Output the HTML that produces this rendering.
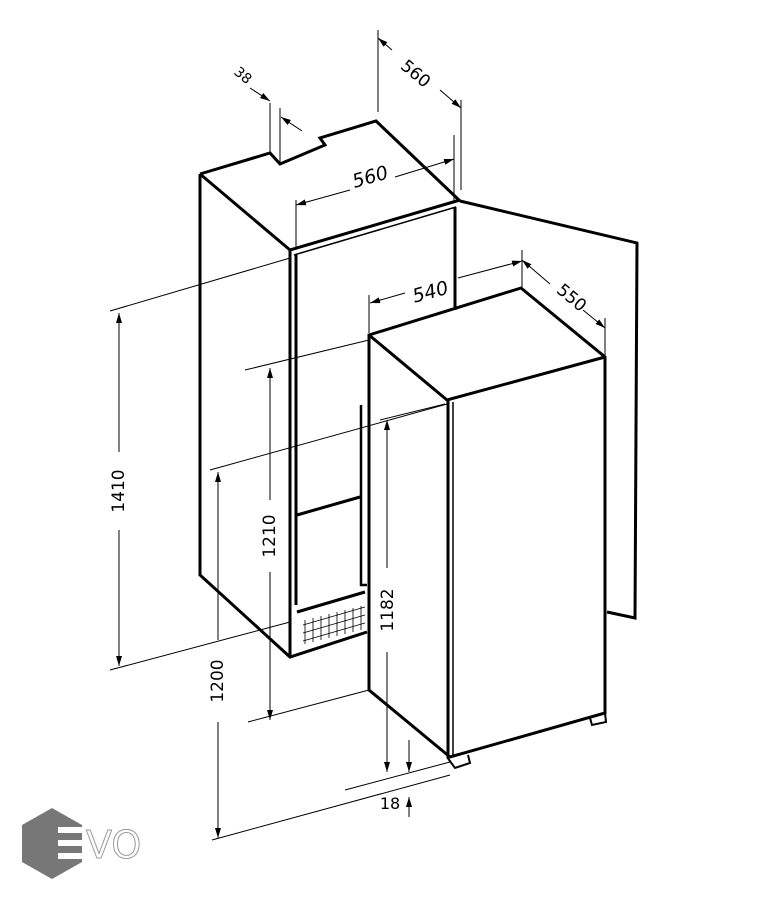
<!DOCTYPE html>
<html><head><meta charset="utf-8"><style>
html,body{margin:0;padding:0;background:#fff;}
svg{display:block;}
text{font-family:"DejaVu Sans","Liberation Sans",sans-serif;}
</style></head><body>
<svg width="775" height="900" viewBox="0 0 775 900" xmlns="http://www.w3.org/2000/svg">
<defs>
<marker id="a" viewBox="0 0 10 6" refX="10" refY="3" markerWidth="10" markerHeight="6" markerUnits="userSpaceOnUse" orient="auto-start-reverse"><path d="M0,0 L10,3 L0,6 z" fill="#000"/></marker>
</defs>
<g fill="none" stroke="#000" stroke-width="3" stroke-linejoin="miter">
<path d="M200,174 L270,153 L280,164 L325,145 L320,138 L376,121 L460,201"/>
<path d="M200,174 L290,250 L460,200"/>
<path d="M200,174 L200,575 L290,657 L367,632"/>
<path d="M290,250 L290,657"/>
<path d="M296,255 L296,605"/>
<path d="M294,255 L456,207" stroke-width="1.5"/>
<path d="M455,207 L455,310"/>
<path d="M297,515 L360,497"/>
<path d="M297,612 L365,592"/>
<path d="M361,405 L361,585 L367,585" stroke-width="2.5"/>
<path d="M460,201 L637,243 L635,618 L607,612"/>
<path d="M369,335 L521,288 L605,357 L605,713 L450,757 L369,690 Z"/>
<path d="M369,335 L447,400 L605,357"/>
<path d="M448,400 L448,757"/>
<path d="M453,402 L453,755" stroke-width="1.5"/>
<path d="M447,757 L455,768 L470,763 L468,755" stroke-width="2"/>
<path d="M590,718 L592,725 L606,722 L605,713" stroke-width="2"/>
</g>
<g stroke="#000" stroke-width="0.8" fill="none">
<path d="M303,625 L365,607 M303,633 L365,615 M303,641 L365,623"/>
<path d="M305,620 L305,644 M313,618 L313,642 M321,616 L321,640 M329,614 L329,638 M337,612 L337,636 M345,610 L345,634 M353,608 L353,632 M361,606 L361,630"/>
</g>
<g stroke="#000" stroke-width="1" fill="none">
<path d="M110,311 L290,258"/>
<path d="M110,670 L290,622"/>
<path d="M119,313 L119,452 M119,530 L119,666" marker-start="url(#a)" marker-end="url(#a)"/>
<path d="M245,370 L369,340"/>
<path d="M248,722 L369,690"/>
<path d="M270,368 L270,500 M270,572 L270,720" marker-start="url(#a)" marker-end="url(#a)"/>
<path d="M210,470 L447,404"/>
<path d="M212,840 L450,775"/>
<path d="M218,472 L218,640 M218,722 L218,838" marker-start="url(#a)" marker-end="url(#a)"/>
<path d="M380,420 L445,404"/>
<path d="M345,790 L450,762"/>
<path d="M387,420 L387,568 M387,652 L387,772" marker-start="url(#a)" marker-end="url(#a)"/>
<path d="M409,740 L409,772" marker-end="url(#a)"/>
<path d="M409,817 L409,797" marker-end="url(#a)"/>
<path d="M296,200 L296,250"/>
<path d="M454,135 L454,202"/>
<path d="M296,205 L350,190" marker-start="url(#a)"/>
<path d="M395,177 L454,159" marker-end="url(#a)"/>
<path d="M378,30 L378,112"/>
<path d="M461,100 L461,190"/>
<path d="M378,38 L392,50" marker-start="url(#a)"/>
<path d="M440,90 L461,108" marker-end="url(#a)"/>
<path d="M270,103 L270,153"/>
<path d="M280,108 L280,164"/>
<path d="M250,88 L270,101" marker-end="url(#a)"/>
<path d="M302,131 L281,117" marker-end="url(#a)"/>
<path d="M369,295 L369,333"/>
<path d="M522,250 L522,288"/>
<path d="M605,318 L605,358"/>
<path d="M370,303 L405,293" marker-start="url(#a)"/>
<path d="M458,278 L522,261" marker-end="url(#a)"/>
<path d="M522,260 L550,284" marker-start="url(#a)"/>
<path d="M583,310 L605,328" marker-end="url(#a)"/>
</g>
<g fill="#000">
<text x="119" y="491" font-size="17" text-anchor="middle" transform="rotate(-90 119 491)" dominant-baseline="middle">1410</text>
<text x="270" y="536" font-size="17" text-anchor="middle" transform="rotate(-90 270 536)" dominant-baseline="middle">1210</text>
<text x="218" y="681" font-size="17" text-anchor="middle" transform="rotate(-90 218 681)" dominant-baseline="middle">1200</text>
<text x="388" y="610" font-size="17" text-anchor="middle" transform="rotate(-90 388 610)" dominant-baseline="middle">1182</text>
<text x="390" y="809" font-size="16" text-anchor="middle">18</text>
<text x="372" y="183" font-size="19" text-anchor="middle" font-style="italic" transform="rotate(-16 372 183)">560</text>
<text x="432" y="298" font-size="19" text-anchor="middle" font-style="italic" transform="rotate(-15 432 298)">540</text>
<text x="412" y="78" font-size="17" text-anchor="middle" transform="rotate(40 412 78)">560</text>
<text x="568" y="302" font-size="17" text-anchor="middle" transform="rotate(40 568 302)">550</text>
<text x="240" y="79" font-size="14" text-anchor="middle" transform="rotate(40 240 79)">38</text>
</g>
<polygon points="52,808 82,825 82,862 52,879 22,862 22,825" fill="#777"/>
<rect x="58" y="827" width="26" height="6" fill="#fff"/>
<rect x="58" y="840" width="26" height="6" fill="#fff"/>
<rect x="58" y="853" width="26" height="6" fill="#fff"/>
<text x="86" y="858" font-size="38" style="fill:#fff;stroke:#999;stroke-width:1" font-family="Liberation Sans, sans-serif">VO</text>
</svg>
</body></html>
